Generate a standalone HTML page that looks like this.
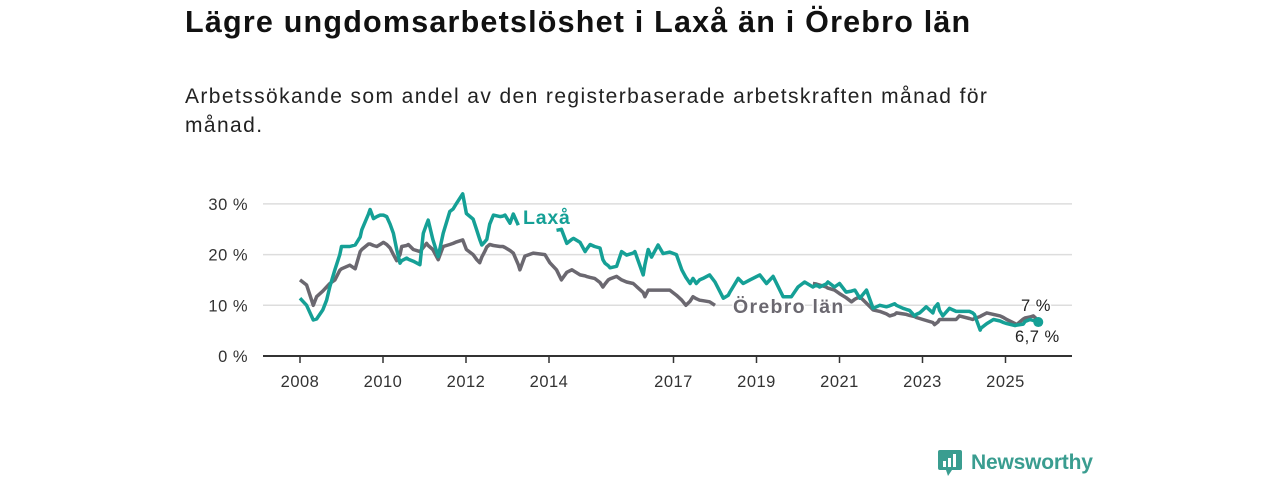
<!DOCTYPE html>
<html><head><meta charset="utf-8">
<style>
body{margin:0;background:#fff;width:1280px;height:480px;overflow:hidden;font-family:"Liberation Sans",sans-serif;}
#title{position:absolute;left:185px;top:5px;font-size:30.5px;font-weight:bold;color:#111;margin:0;letter-spacing:1.2px;white-space:nowrap}
#sub{position:absolute;left:185px;top:82px;font-size:21px;color:#222;line-height:29px;width:845px;letter-spacing:1.4px}
svg{position:absolute;left:0;top:0}
</style></head><body>
<h1 id="title">Lägre ungdomsarbetslöshet i Laxå än i Örebro län</h1>
<div id="sub">Arbetssökande som andel av den registerbaserade arbetskraften månad för månad.</div>
<svg id="chart" width="1280" height="480"></svg>
<div style="position:absolute;left:938px;top:449px;height:28px;display:flex;align-items:center;">
<svg width="24" height="30" style="position:relative"><rect x="0" y="2" width="24" height="20" rx="2" fill="#3a9d90"/><polygon points="8,22 14,22 10,28" fill="#3a9d90"/><rect x="5" y="13" width="3" height="6" fill="#fff"/><rect x="10" y="10" width="3" height="9" fill="#fff"/><rect x="15" y="6" width="3" height="13" fill="#fff"/></svg>
<span style="margin-left:9px;font-size:21px;color:#3a9d90;font-weight:bold;letter-spacing:-0.2px">Newsworthy</span>
</div>
<script>
const dates=[2008.0,2008.16,2008.32,2008.4,2008.55,2008.64,2008.72,2008.84,2008.96,2009.0,2009.2,2009.33,2009.45,2009.49,2009.65,2009.69,2009.77,2009.85,2009.93,2010.01,2010.09,2010.17,2010.25,2010.33,2010.41,2010.45,2010.57,2010.61,2010.73,2010.89,2010.97,2011.05,2011.09,2011.2,2011.33,2011.45,2011.61,2011.69,2011.77,2011.92,2012.01,2012.17,2012.26,2012.33,2012.38,2012.45,2012.5,2012.57,2012.66,2012.82,2012.89,2012.94,2013.06,2013.14,2013.26,2013.3,2013.42,2013.62,2013.9,2014.02,2014.18,2014.3,2014.43,2014.55,2014.59,2014.75,2014.87,2014.9,2014.99,2015.1,2015.23,2015.3,2015.35,2015.43,2015.47,2015.63,2015.75,2015.87,2016.03,2016.07,2016.27,2016.31,2016.39,2016.47,2016.63,2016.75,2016.91,2017.07,2017.2,2017.3,2017.4,2017.47,2017.55,2017.63,2017.71,2017.87,2018.0,2018.2,2018.32,2018.36,2018.56,2018.68,2018.84,2019.08,2019.24,2019.4,2019.64,2019.84,2020.0,2020.16,2020.36,2020.44,2020.52,2020.68,2020.72,2020.88,2021.0,2021.16,2021.29,2021.37,2021.49,2021.65,2021.81,2021.97,2022.13,2022.21,2022.33,2022.37,2022.53,2022.61,2022.69,2022.81,2022.85,2022.93,2023.01,2023.09,2023.25,2023.29,2023.37,2023.41,2023.49,2023.65,2023.73,2023.81,2023.89,2024.13,2024.21,2024.25,2024.39,2024.41,2024.55,2024.71,2024.87,2024.95,2025.03,2025.23,2025.27,2025.43,2025.47,2025.59,2025.67,2025.79];
const laxa=[11.4,10,7.1,7.3,9.1,11,13.7,17,20,21.6,21.6,21.9,23.5,24.9,28,28.9,27.1,27.5,27.8,27.8,27.5,26,24.2,21,18.3,18.8,19.3,19.1,18.7,18,24.2,26,26.8,23,19.6,24.2,28.5,29,30.1,32,28.1,27,24.8,23,21.9,22.5,23,26,27.8,27.5,27.6,27.8,26.2,28,25.8,null,null,null,null,null,24.8,25,22.2,23,23.2,22.4,20.6,21,22,21.6,21.3,19,18.3,17.8,17.4,17.7,20.6,19.9,20.3,20.6,16,18,21,19.5,21.9,20.2,20.5,20,17,15.5,14.3,15.3,14.3,15,15.3,16,14.6,11.4,12,12.6,15.3,14.3,15,16,14.3,15.7,11.7,11.7,13.6,14.6,13.6,14,13.6,14.2,14.6,13.6,14.3,12.6,12.8,13,11.4,13,9.4,10,9.7,9.9,10.3,10,9.4,9.2,9,7.9,8.2,8.5,9.1,9.7,8.5,9.5,10.3,9,7.9,9.4,9.1,8.8,8.8,8.8,8.5,8.2,5.1,5.5,6.4,7.2,6.9,6.6,6.4,6,6.1,6.3,6.8,7.2,7,6.7];
const orebro=[15,14,10,11.7,12.8,13.6,14.3,15,16.9,17.2,17.9,17.2,20.6,21,22.1,22.1,21.8,21.6,22,22.4,22,21.3,20,18.8,20,21.6,21.8,22,21,20.6,21.4,22.2,21.8,21,19,21.6,22,22.2,22.5,22.9,21,20,19,18.4,19.5,20.6,21.5,22,21.8,21.6,21.6,21.4,20.8,20.3,18,17,19.7,20.3,20,18.4,17,15,16.5,17,16.8,16,15.8,15.7,15.5,15.3,14.5,13.6,14.2,15,15.2,15.7,15,14.6,14.3,14,12.5,11.7,13,13,13,13,13,12,11,10,10.8,11.7,11.3,11,10.9,10.7,10,null,8.4,null,null,null,null,null,null,null,null,null,null,null,14.3,14.2,14,13.6,13.4,13,12.3,11.5,10.7,11.2,11.7,10.4,9.1,8.8,8.3,7.9,8.2,8.5,8.3,8.2,8,7.8,7.6,7.4,7.2,7,6.6,6.2,6.7,7.2,7.2,7.2,7.2,7.2,7.9,7.4,7.2,7.4,7.8,7.9,8.5,8.2,7.9,7.6,7.2,6.4,6.2,7.3,7.5,7.7,7.9,7.0];
const yTicks=[0,10,20,30];
const xTicks=[2008,2010,2012,2014,2017,2019,2021,2023,2025];
const NS='http://www.w3.org/2000/svg';
const svg=document.getElementById('chart');
const X=v=>300+(v-2008)*41.5;
const Y=v=>356-v*5.07;
function mk(t,a,p){const e=document.createElementNS(NS,t);for(const k in a)e.setAttribute(k,a[k]);(p||svg).appendChild(e);return e;}
yTicks.forEach(t=>{
  if(t>0){const g=mk('line',{x1:263,x2:1072,y1:Y(t),y2:Y(t),stroke:'#dddddd','stroke-width':1.5});
  
  }
  const l=mk('text',{x:248,y:Y(t)+6,'text-anchor':'end','font-size':16.5,fill:'#333','letter-spacing':0.5});
  l.textContent=t+' %';
  
  
});
const ax=mk('line',{x1:263,x2:1072,y1:356,y2:356,stroke:'#333','stroke-width':2});


xTicks.forEach(t=>{
  mk('line',{x1:X(t),x2:X(t),y1:356,y2:363,stroke:'#333','stroke-width':1.5});
  const l=mk('text',{x:X(t),y:387,'text-anchor':'middle','font-size':16.5,fill:'#333','letter-spacing':0.5});
  l.textContent=t;
  
  
});
function path(vals){let d='',pen=false;vals.forEach((v,i)=>{if(v==null){pen=false;return;}d+=(pen?'L':'M')+X(dates[i]).toFixed(1)+','+Y(v).toFixed(1);pen=true;});return d;}
const po=mk('path',{d:path(orebro),fill:'none',stroke:'#6b6870','stroke-width':3.5,'stroke-linejoin':'round'});


const pl=mk('path',{d:path(laxa),fill:'none',stroke:'#15a096','stroke-width':3.5,'stroke-linejoin':'round'});


const last=dates.length-1;
const dot=mk('circle',{cx:X(dates[last]),cy:Y(laxa[last]),r:5,fill:'#15a096'});


function lab(x,y,txt,col,w,name,sz,ls){const t=mk('text',{x:x,y:y,'font-size':sz,'font-weight':w,fill:col,stroke:'#fff','stroke-width':3,'paint-order':'stroke','letter-spacing':ls});t.textContent=txt;

}
lab(523,224,'Laxå','#15a096','bold','laxa-label',19.5,0.8);
lab(733,313,'Örebro län','#6b6870','bold','orebro-label',19.5,1.3);
lab(1021,311,'7 %','#222','normal','orebro-end-value',16.5,0.5);
lab(1015,342,'6,7 %','#222','normal','laxa-end-value',16.5,0.5);
</script>
</body></html>
